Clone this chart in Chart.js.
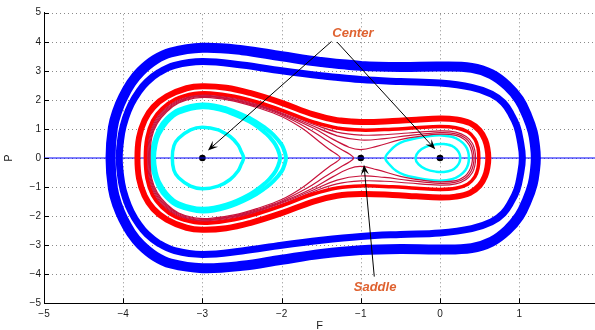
<!DOCTYPE html>
<html>
<head>
<meta charset="utf-8">
<script src="https://cdn.jsdelivr.net/npm/chart.js@4/dist/chart.umd.min.js"></script>
<style>
  html, body { margin: 0; padding: 0; background: #fff; }
  #wrap { width: 595px; height: 330px; }
</style>
</head>
<body>
<div id="wrap"><canvas id="c" width="595" height="330"></canvas></div>
<script>
// Phase portrait in the (F, P) plane: closed orbits, upper halves listed
// from the left turning point to the right one as [F, P] pairs.
const xTicks = [-5, -4, -3, -2, -1, 0, 1];
const yTicks = [-5, -4, -3, -2, -1, 0, 1, 2, 3, 4, 5];

const blueOuter = [[-4.16,0],[-4.13,1.05],[-4.07,1.65],[-4.0,2.1],[-3.9,2.58],[-3.78,2.98],[-3.6,3.38],[-3.4,3.63],[-3.0,3.79],[-2.5,3.71],[-2.0,3.5],[-1.5,3.3],[-1.0,3.17],[-0.5,3.13],[0,3.15],[0.4,3.1],[0.65,2.88],[0.85,2.48],[1.0,2.0],[1.1,1.45],[1.17,0.9],[1.2,0.4],[1.21,0]];
const blueInner = [[-4.05,0],[-4.02,0.85],[-3.97,1.38],[-3.9,1.85],[-3.8,2.3],[-3.7,2.62],[-3.55,2.94],[-3.35,3.19],[-3.0,3.32],[-2.5,3.2],[-2.0,3.0],[-1.5,2.83],[-1.0,2.7],[-0.5,2.63],[0,2.58],[0.4,2.43],[0.65,2.2],[0.8,1.9],[0.9,1.5],[0.97,1.1],[1.01,0.65],[1.04,0]];
const redOuter = [[-3.82,0],[-3.8,0.7],[-3.73,1.3],[-3.62,1.75],[-3.45,2.12],[-3.2,2.4],[-3.0,2.47],[-2.7,2.42],[-2.4,2.24],[-2.0,1.9],[-1.6,1.5],[-1.3,1.3],[-1.0,1.24],[-0.6,1.27],[-0.3,1.32],[0,1.36],[0.2,1.33],[0.38,1.2],[0.5,0.95],[0.57,0.62],[0.6,0.3],[0.61,0]];
const redInner = [[-3.72,0],[-3.7,0.7],[-3.63,1.28],[-3.51,1.7],[-3.34,2.03],[-3.1,2.22],[-2.9,2.24],[-2.6,2.13],[-2.3,1.92],[-2.0,1.65],[-1.6,1.24],[-1.3,1.03],[-1.0,0.96],[-0.6,0.99],[-0.3,1.04],[0,1.08],[0.2,1.04],[0.35,0.9],[0.44,0.65],[0.48,0.35],[0.49,0]];
const passA = [[-3.7,0],[-3.68,0.7],[-3.61,1.27],[-3.49,1.67],[-3.32,1.99],[-3.1,2.16],[-2.9,2.18],[-2.6,2.07],[-2.3,1.86],[-2.0,1.59],[-1.6,1.16],[-1.3,0.89],[-1.0,0.79],[-0.7,0.8],[-0.4,0.86],[0,0.93],[0.2,0.89],[0.33,0.74],[0.41,0.5],[0.44,0.25],[0.45,0]];
const passB = [[-3.69,0],[-3.67,0.7],[-3.6,1.25],[-3.48,1.65],[-3.31,1.97],[-3.1,2.14],[-2.9,2.15],[-2.6,2.04],[-2.3,1.83],[-2.0,1.55],[-1.6,1.1],[-1.3,0.76],[-1.0,0.62],[-0.7,0.67],[-0.4,0.77],[0,0.87],[0.2,0.83],[0.32,0.69],[0.39,0.47],[0.42,0.24],[0.43,0]];
const passC = [[-3.68,0],[-3.66,0.7],[-3.59,1.23],[-3.47,1.63],[-3.3,1.95],[-3.1,2.12],[-2.9,2.13],[-2.6,2.01],[-2.3,1.8],[-2.0,1.52],[-1.6,1.03],[-1.35,0.64],[-1.15,0.37],[-1.0,0.29],[-0.8,0.4],[-0.5,0.63],[-0.2,0.77],[0,0.82],[0.2,0.78],[0.31,0.64],[0.37,0.44],[0.4,0.22],[0.41,0]];
const wellA = [[-3.67,0],[-3.65,0.7],[-3.58,1.21],[-3.46,1.61],[-3.3,1.92],[-3.1,2.09],[-2.9,2.11],[-2.6,1.99],[-2.3,1.77],[-2.0,1.48],[-1.7,1.07],[-1.45,0.64],[-1.25,0.3],[-1.14,0.13],[-1.09,0]];
const wellB = [[-3.66,0],[-3.64,0.7],[-3.57,1.19],[-3.45,1.59],[-3.3,1.89],[-3.1,2.06],[-2.9,2.08],[-2.6,1.96],[-2.3,1.73],[-2.0,1.43],[-1.75,1.04],[-1.55,0.62],[-1.4,0.3],[-1.3,0.12],[-1.26,0]];
const cyanLeftOuterA = [[-3.61,0],[-3.59,0.48],[-3.55,0.81],[-3.45,1.23],[-3.3,1.56],[-3.0,1.75],[-2.7,1.61],[-2.4,1.25],[-2.2,0.85],[-2.1,0.55],[-2.05,0.31],[-2.02,0]];
const cyanLeftOuterB = [[-3.64,0],[-3.62,0.45],[-3.55,0.99],[-3.45,1.36],[-3.3,1.66],[-3.0,1.84],[-2.7,1.71],[-2.4,1.37],[-2.2,1.02],[-2.1,0.79],[-2.0,0.46],[-1.96,0.2],[-1.945,0]];
const cyanLeftInner = [[-3.38,0],[-3.36,0.42],[-3.3,0.68],[-3.15,0.97],[-3.0,1.06],[-2.8,0.97],[-2.65,0.74],[-2.55,0.45],[-2.51,0.22],[-2.48,0]];
const cyanRightOuter = [[-0.69,0],[-0.63,0.25],[-0.55,0.45],[-0.45,0.58],[-0.3,0.68],[-0.15,0.75],[0,0.78],[0.15,0.73],[0.25,0.6],[0.32,0.42],[0.355,0.22],[0.365,0]];
const cyanRightInner = [[-0.31,0],[-0.27,0.22],[-0.18,0.38],[-0.05,0.47],[0.05,0.48],[0.15,0.42],[0.21,0.3],[0.245,0.15],[0.255,0]];
const equilibria = [[-3,0],[-1,0],[0,0]];
const zeroLine = [[-5,0],[2,0]];

// Text labels and their arrows, in data coordinates
const notes = [
  { text: 'Center', at: [-1.10, 4.28], arrows: [[[-1.37, 4.01], [-2.93, 0.26]], [[-1.30, 3.99], [-0.06, 0.30]]] },
  { text: 'Saddle', at: [-0.82, -4.46], arrows: [[[-0.83, -4.08], [-0.96, -0.23]]] }
];

// Turn an upper half into a closed loop, starting on the flat top so the
// spline has no corner where the path begins and ends.
function closedLoop(upper) {
  const lower = upper.slice(1, -1).reverse().map(([f, p]) => [f, -p]);
  const ring = upper.concat(lower);
  const s = Math.floor(upper.length / 2);
  return ring.slice(s).concat(ring.slice(0, s + 2)).map(([f, p]) => ({ x: f, y: p }));
}

function orbit(upper, color, width) {
  return {
    data: closedLoop(upper), showLine: true, borderColor: color, borderWidth: width,
    pointRadius: 0, tension: 0.4, fill: false, borderJoinStyle: 'round', borderCapStyle: 'round'
  };
}

const thin = '#c8143c';
const datasets = [
  orbit(blueOuter, '#0000ff', 10),
  orbit(blueInner, '#0000ff', 7),
  orbit(redOuter, '#ff0000', 6),
  orbit(redInner, '#ff0000', 3.5),
  orbit(passA, thin, 1.2),
  orbit(passB, thin, 1.2),
  orbit(passC, thin, 1.2),
  orbit(wellA, thin, 1.2),
  orbit(wellB, thin, 1.2),
  orbit(cyanLeftOuterA, '#00ffff', 4),
  orbit(cyanLeftOuterB, '#00ffff', 4),
  orbit(cyanLeftInner, '#00ffff', 3.5),
  orbit(cyanRightOuter, '#00ffff', 2.5),
  orbit(cyanRightInner, '#00ffff', 2.5),
  { data: zeroLine.map(([f, p]) => ({ x: f, y: p })), showLine: true, borderColor: '#0000ff', borderWidth: 1, pointRadius: 0 },
  { data: equilibria.map(([f, p]) => ({ x: f, y: p })), showLine: false, pointRadius: 3.3, pointBackgroundColor: '#000', pointBorderColor: '#000', pointBorderWidth: 0 }
];

const minus = v => String(v).replace('-', '\u2212');

// Dotted grid and inward tick marks
const gridPlugin = {
  id: 'dottedGrid',
  beforeDatasetsDraw(chart) {
    const { ctx, chartArea: a, scales: { x, y } } = chart;
    ctx.save();
    ctx.strokeStyle = '#8a8a8a';
    ctx.lineWidth = 1;
    ctx.setLineDash([1, 3]);
    xTicks.slice(1).forEach(v => {
      const px = Math.round(x.getPixelForValue(v)) + 0.5;
      ctx.beginPath(); ctx.moveTo(px, a.bottom); ctx.lineTo(px, a.top); ctx.stroke();
    });
    yTicks.slice(1).forEach(v => {
      const py = Math.round(y.getPixelForValue(v)) + 0.5;
      ctx.beginPath(); ctx.moveTo(a.left, py); ctx.lineTo(a.right, py); ctx.stroke();
    });
    ctx.restore();
  },
  afterDatasetsDraw(chart) {
    const { ctx, chartArea: a, scales: { x, y } } = chart;
    ctx.save();
    ctx.strokeStyle = '#000';
    ctx.lineWidth = 1;
    xTicks.forEach(v => {
      const px = Math.round(x.getPixelForValue(v)) + 0.5;
      ctx.beginPath(); ctx.moveTo(px, a.bottom); ctx.lineTo(px, a.bottom - 5); ctx.stroke();
    });
    yTicks.forEach(v => {
      const py = Math.round(y.getPixelForValue(v)) + 0.5;
      ctx.beginPath(); ctx.moveTo(a.left, py); ctx.lineTo(a.left + 5, py); ctx.stroke();
    });
    ctx.restore();
  }
};

// Text notes with arrows pointing at the equilibria
const notePlugin = {
  id: 'notes',
  afterDraw(chart) {
    const { ctx, scales: { x, y } } = chart;
    const px = p => [x.getPixelForValue(p[0]), y.getPixelForValue(p[1])];
    ctx.save();
    notes.forEach(n => {
      n.arrows.forEach(([from, to]) => {
        const [x0, y0] = px(from), [x1, y1] = px(to);
        const ang = Math.atan2(y1 - y0, x1 - x0);
        const len = 10, half = 4, notch = 6;
        const bx = x1 - len * Math.cos(ang), by = y1 - len * Math.sin(ang);
        ctx.strokeStyle = '#000';
        ctx.lineWidth = 1;
        ctx.beginPath(); ctx.moveTo(x0, y0);
        ctx.lineTo(x1 - notch * Math.cos(ang), y1 - notch * Math.sin(ang)); ctx.stroke();
        ctx.fillStyle = '#000';
        ctx.beginPath();
        ctx.moveTo(x1, y1);
        ctx.lineTo(bx - half * Math.sin(ang), by + half * Math.cos(ang));
        ctx.lineTo(x1 - notch * Math.cos(ang), y1 - notch * Math.sin(ang));
        ctx.lineTo(bx + half * Math.sin(ang), by - half * Math.cos(ang));
        ctx.closePath(); ctx.fill();
      });
      const [tx, ty] = px(n.at);
      ctx.fillStyle = '#df6230';
      ctx.font = 'italic bold 13px "Liberation Sans", Arial, sans-serif';
      ctx.textAlign = 'center';
      ctx.textBaseline = 'middle';
      ctx.fillText(n.text, tx, ty);
    });
    ctx.restore();
  }
};

const tickFont = { family: '"Liberation Sans", Arial, sans-serif', size: 10 };
const titleFont = { family: '"Liberation Sans", Arial, sans-serif', size: 11 };

new Chart(document.getElementById('c'), {
  type: 'scatter',
  data: { datasets },
  options: {
    responsive: false,
    devicePixelRatio: 1,
    animation: false,
    events: [],
    layout: { autoPadding: false, padding: { top: 12.7, right: 0, bottom: 0, left: 0 } },
    plugins: { legend: { display: false }, tooltip: { enabled: false } },
    scales: {
      x: {
        type: 'linear', min: -5, max: 1.957,
        afterBuildTicks: s => { s.ticks = xTicks.map(v => ({ value: v })); },
        afterFit: s => { s.height = 26.7; s.paddingLeft = 0; s.paddingRight = 0; },
        grid: { display: false, drawTicks: false },
        border: { display: true, color: '#000', width: 1 },
        ticks: { color: '#1a1a1a', font: tickFont, padding: 5, maxRotation: 0, autoSkip: false, callback: minus },
        title: { display: true, text: 'F', color: '#1a1a1a', font: titleFont, padding: { top: 0, bottom: -3 } }
      },
      y: {
        type: 'linear', min: -5, max: 5,
        afterBuildTicks: s => { s.ticks = yTicks.map(v => ({ value: v })); },
        afterFit: s => { s.width = 44; s.paddingTop = 0; s.paddingBottom = 0; },
        grid: { display: false, drawTicks: false },
        border: { display: true, color: '#000', width: 1 },
        ticks: { color: '#1a1a1a', font: tickFont, padding: 3, autoSkip: false, callback: minus },
        title: { display: true, text: 'P', color: '#1a1a1a', font: titleFont, padding: { top: 2, bottom: 0 } }
      }
    }
  },
  plugins: [gridPlugin, notePlugin]
});
</script>
</body>
</html>
